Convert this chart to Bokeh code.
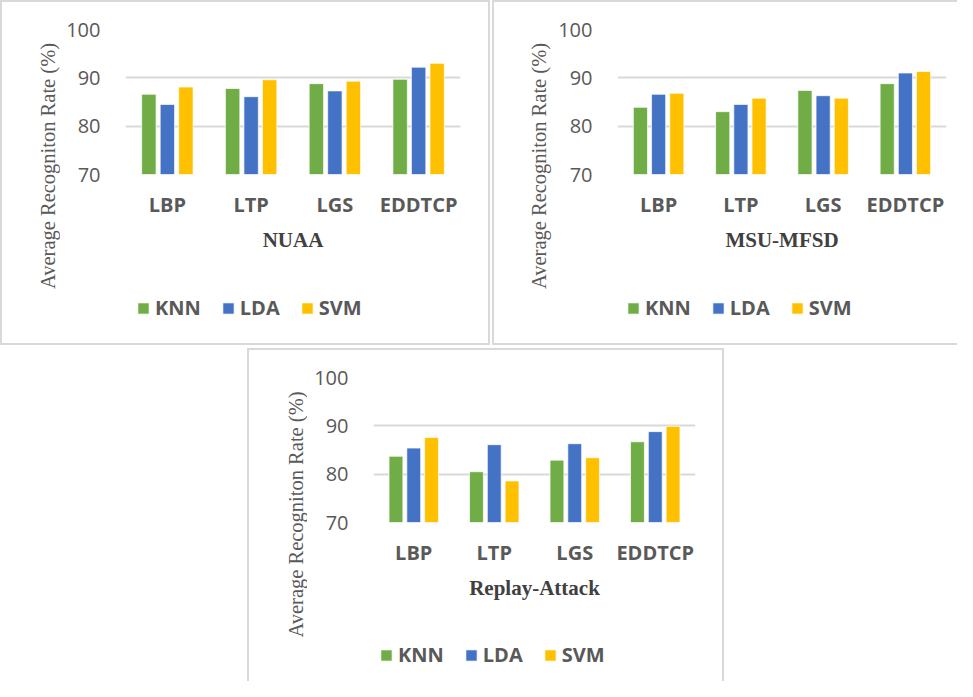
from bokeh.plotting import figure
from bokeh.models import (ColumnDataSource, FactorRange, Range1d, FixedTicker, Label,
                          Legend, LegendItem, Spacer, Row, Column)
from bokeh.layouts import row, column
from bokeh.transform import dodge
from bokeh.embed import file_html
from bokeh.resources import INLINE

categories = ["LBP", "LTP", "LGS", "EDDTCP"]
series = ["KNN", "LDA", "SVM"]

nuaa_knn = [86.6, 87.8, 88.8, 89.7]
nuaa_lda = [84.5, 86.1, 87.3, 92.2]
nuaa_svm = [88.1, 89.6, 89.3, 93.0]

msu_knn = [83.9, 83.0, 87.4, 88.8]
msu_lda = [86.6, 84.5, 86.3, 91.0]
msu_svm = [86.8, 85.8, 85.8, 91.3]

replay_knn = [83.7, 80.5, 82.9, 86.7]
replay_lda = [85.4, 86.1, 86.3, 88.8]
replay_svm = [87.6, 78.6, 83.4, 89.9]

y_ticks = [70, 80, 90, 100]
y_title = "Average Recogniton Rate (%)"
colors = ["#70AD47", "#4472C4", "#FFC000"]
offsets = [-0.221, 0.0, 0.221]

TITLE_W = 58
FRAME_H = 145
SERIF = "'Liberation Serif', 'Times New Roman', serif"


def bare(p):
    p.outline_line_color = None
    p.min_border_left = 0
    p.min_border_right = 0
    p.min_border_top = 0
    p.min_border_bottom = 0
    p.xaxis.visible = False
    p.yaxis.visible = False
    p.xgrid.visible = False
    p.ygrid.visible = False


def add_bars(p, src, visible=True):
    rs = []
    for s, off, c in zip(series, offsets, colors):
        rs.append(p.vbar(x=dodge("cat", off, range=p.x_range), top=s, bottom=60, width=0.172,
                         source=src, fill_color=c, line_color="white", line_alpha=0.7,
                         line_width=1, visible=visible))
    return rs


def make_panel(name, knn, lda, svm, inner_w, inner_h, frame_left, frame_right, frame_top,
               yt_x, yt_cy, lg_x, lg_cy, border):
    src = ColumnDataSource(dict(cat=categories, KNN=knn, LDA=lda, SVM=svm))

    # y-axis title column
    tf = figure(width=TITLE_W, height=inner_h, output_backend="svg", toolbar_location=None,
                x_range=Range1d(0, 1), y_range=Range1d(0, 1))
    bare(tf)
    tf.add_layout(Label(x=yt_x, y=inner_h - yt_cy, x_units="screen", y_units="screen",
                        text=y_title, angle=90, angle_units="deg", text_align="center",
                        text_baseline="middle", text_font=SERIF,
                        text_font_size="20.5px", text_color="#595959"))

    # chart
    cw = inner_w - TITLE_W
    ch = frame_top + FRAME_H + 88
    p = figure(width=cw, height=ch, x_range=FactorRange(*categories),
               y_range=Range1d(70, 100), output_backend="svg", toolbar_location=None,
               min_border_left=frame_left - TITLE_W, min_border_right=inner_w - frame_right,
               min_border_top=frame_top, min_border_bottom=88)
    p.x_range.range_padding = 0
    p.outline_line_color = None
    add_bars(p, src)
    p.xgrid.grid_line_color = None
    p.ygrid.grid_line_color = "#d9d9d9"
    p.ygrid.grid_line_width = 2
    p.yaxis.ticker = FixedTicker(ticks=y_ticks)
    for ax in (p.xaxis[0], p.yaxis[0]):
        ax.axis_line_color = None
        ax.major_tick_line_color = None
        ax.minor_tick_line_color = None
        ax.major_tick_out = 0
        ax.major_label_text_color = "#595959"
        ax.major_label_text_font = "Open Sans"
    p.yaxis.major_label_text_font_size = "20px"
    p.yaxis.major_label_standoff = 25
    p.xaxis.major_label_text_font_size = "20px"
    p.xaxis.major_label_text_font_style = "bold"
    p.xaxis.major_label_standoff = 16
    p.xaxis.axis_label = name
    p.xaxis.axis_label_text_font = "Liberation Serif"
    p.xaxis.axis_label_text_font_style = "bold"
    p.xaxis.axis_label_text_font_size = "21px"
    p.xaxis.axis_label_text_color = "#404040"
    p.xaxis.axis_label_standoff = 7

    # legend strip (its frame is aligned with the chart's frame in the column)
    lh = inner_h - ch
    lf = figure(width=cw, height=lh, x_range=FactorRange(*categories), y_range=Range1d(0, 1),
                output_backend="svg", toolbar_location=None)
    bare(lf)
    lrs = add_bars(lf, src, visible=False)
    legend = Legend(items=[LegendItem(label=s, renderers=[r]) for s, r in zip(series, lrs)],
                    location=(lg_x - frame_left, lh - (lg_cy - ch) - 13),
                    orientation="horizontal",
                    border_line_color=None, background_fill_alpha=0,
                    padding=0, margin=0, spacing=20, label_standoff=5,
                    glyph_width=14, glyph_height=14,
                    label_text_font="Open Sans", label_text_font_style="bold",
                    label_text_font_size="20px", label_text_color="#595959")
    lf.add_layout(legend, "center")

    return Row(children=[tf, Column(children=[p, lf])], styles=border)


bc = "2px solid #d9d9d9"
panel1 = make_panel("NUAA", nuaa_knn, nuaa_lda, nuaa_svm, 486, 341, 123, 458, 27,
                    45, 163.5, 134, 306, {"border": bc})
panel2 = make_panel("MSU-MFSD", msu_knn, msu_lda, msu_svm, 463, 341, 123, 452, 27,
                    44, 163.5, 132, 306,
                    {"border-top": bc, "border-left": bc, "border-bottom": bc})
panel3 = make_panel("Replay-Attack", replay_knn, replay_lda, replay_svm, 473, 331, 124, 446, 27,
                    46, 164, 130, 305,
                    {"border-top": bc, "border-left": bc, "border-right": bc})

layout = column(row(panel1, panel2, spacing=2),
                row(Spacer(width=247, height=331), panel3, spacing=0),
                spacing=3)

open("out.html", "w").write(file_html(layout, INLINE))
